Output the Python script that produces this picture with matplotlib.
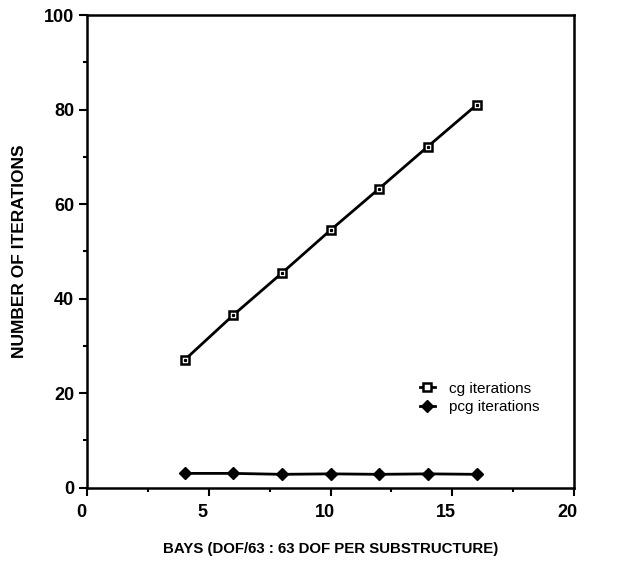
import matplotlib
matplotlib.use("Agg")
import matplotlib.pyplot as plt
from matplotlib.ticker import MultipleLocator
from matplotlib.transforms import ScaledTranslation

bays = [4, 6, 8, 10, 12, 14, 16]
cg_iterations = [27, 36.5, 45.4, 54.5, 63.3, 72.2, 81]
pcg_iterations = [3.0, 3.0, 2.8, 2.9, 2.8, 2.9, 2.8]

plt.rcParams['font.family'] = ['Liberation Sans', 'DejaVu Sans']

fig = plt.figure(figsize=(6.32, 5.63), dpi=100)
ax = fig.add_axes([0.138, 0.134, 0.770, 0.839])

ax.plot(bays, cg_iterations, color='black', lw=2, marker='s', ms=6,
        mfc='white', mec='black', mew=1.8, label='cg iterations')
ax.plot(bays, cg_iterations, ls='none', marker='s', ms=1.3, color='black')
ax.plot(bays, pcg_iterations, color='black', lw=2, marker='D', ms=6,
        mfc='black', mec='black', label='pcg iterations')

ax.set_xlim(0, 20)
ax.set_ylim(0, 100)
ax.xaxis.set_major_locator(MultipleLocator(5))
ax.yaxis.set_major_locator(MultipleLocator(20))
ax.xaxis.set_minor_locator(MultipleLocator(2.5))
ax.yaxis.set_minor_locator(MultipleLocator(10))
ax.tick_params(which='major', direction='out', length=6, width=1.5, labelsize=13)
ax.tick_params(axis='x', which='major', pad=6)
ax.tick_params(which='minor', direction='out', length=3, width=1.5)
offset = ScaledTranslation(-6 / 100, 0, fig.dpi_scale_trans)
for lab in ax.get_xticklabels():
    lab.set_fontweight('bold')
    lab.set_transform(lab.get_transform() + offset)
for lab in ax.get_yticklabels():
    lab.set_fontweight('bold')
for s in ax.spines.values():
    s.set_linewidth(1.8)

ax.set_xlabel('BAYS (DOF/63 : 63 DOF PER SUBSTRUCTURE)', fontweight='bold',
              fontsize=10.8, labelpad=15)
ax.set_ylabel('NUMBER OF ITERATIONS', fontweight='bold', fontsize=12.5, labelpad=12)

h, l = ax.get_legend_handles_labels()
ax.legend(h, l, frameon=False, loc='center left',
          bbox_to_anchor=(0.655, 0.19), fontsize=11, handlelength=1.0,
          handletextpad=0.9, labelspacing=0.3)

fig.savefig('out.png', dpi=100)
